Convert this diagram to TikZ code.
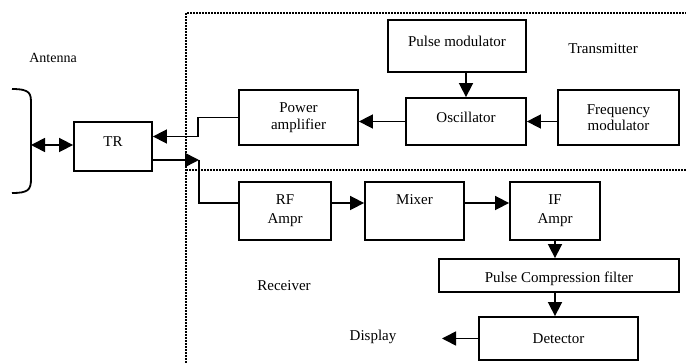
\documentclass[tikz,border=0pt]{standalone}
\usepackage{fontspec}
\setmainfont{Liberation Serif}
\usetikzlibrary{arrows.meta}

\begin{document}
\begin{tikzpicture}[x=1pt, y=-1pt, line width=1.6pt,
  every node/.style={font=\fontsize{15}{16.5}\selectfont},
  blk/.style={draw, line width=1.8pt, align=center, inner sep=2pt},
  lift/.style={text depth=#1},
  arr/.style={-{Triangle[length=14pt,width=14pt]}},
  zone/.style={line width=1.6pt, dash pattern=on 1.6pt off 1.4pt}]
  \useasboundingbox (0,0) rectangle (686,363);

  % Sections
  \draw[zone] (186,363) -- (186,13) -- (686,13);
  \draw[zone] (186,170) -- (686,170);
  \node (txl) at (603,49) {Transmitter};
  \node (rxl) at (284,286) {Receiver};

  % Antenna
  \node (antl) at (53,58) [font=\fontsize{14}{16}\selectfont] {Antenna};
  \draw[line width=1.8pt] (12,89) .. controls (31,89) and (31,94) .. (31,104) -- (31,179)
    .. controls (31,190) and (28,193) .. (12,193);
  \coordinate (ant) at (31,145);

  % Duplexer
  \node (tr) at (113,146.5) [blk, minimum width=78pt, minimum height=49pt, lift=10pt] {TR};
  \draw[{Triangle[length=14pt,width=14pt]}-{Triangle[length=14pt,width=14pt]}] (ant) -- (tr.west |- ant);

  % Transmitter
  \node (pm) at (457,46) [blk, minimum width=138pt, minimum height=52pt, lift=10pt] {Pulse modulator};
  \node (osc) at (466,121.5) [blk, minimum width=120pt, minimum height=47pt, lift=9pt] {Oscillator};
  \node (pa) at (298.5,117.5) [blk, minimum width=119pt, minimum height=55pt] {Power\\amplifier};
  \node (fm) at (618.5,117.5) [blk, minimum width=121pt, minimum height=55pt] {Frequency\\modulator};
  \draw[arr] (osc.north |- pm.south) -- (osc.north);
  \draw[arr] (osc.west) -- (pa.east |- osc.west);
  \draw[arr] (fm.west |- osc.west) -- (osc.west -| osc.east);
  \draw[arr] (pa.west) -- ++(-40,0) |- ([yshift=10pt]tr.east);

  % Receiver
  \node (rf) at (285,211) [blk, minimum width=92pt, minimum height=58pt] {RF\\[2.5pt]Ampr};
  \node (mix) at (414.5,211) [blk, minimum width=99pt, minimum height=58pt, lift=22pt] {Mixer};
  \node (ifa) at (555,211) [blk, minimum width=90pt, minimum height=58pt] {IF\\[2.5pt]Ampr};
  \node (pcf) at (559,275.5) [blk, minimum width=240pt, minimum height=33pt, text height=18pt] {Pulse Compression filter};
  \node (det) at (558.5,338.5) [blk, minimum width=159pt, minimum height=43pt] {Detector};
  \node (dspl) at (373,337) {Display};
  \coordinate (rx) at (199,160);
  \coordinate (dsp) at (442,338.5);
  \draw[arr] ([yshift=-13.5pt]tr.east) -- (rx);
  \draw (rx) |- ([yshift=8pt]rf.west);
  \draw[arr] ([yshift=8pt]rf.east) -- ([yshift=8pt]mix.west);
  \draw[arr] ([yshift=8pt]mix.east) -- ([yshift=8pt]ifa.west);
  \draw[arr] (ifa.south) -- (ifa.south |- pcf.north);
  \draw[arr] (ifa.south |- pcf.south) -- (ifa.south |- det.north);
  \draw[arr] (det.west) -- (dsp);

\end{tikzpicture}
\end{document}
